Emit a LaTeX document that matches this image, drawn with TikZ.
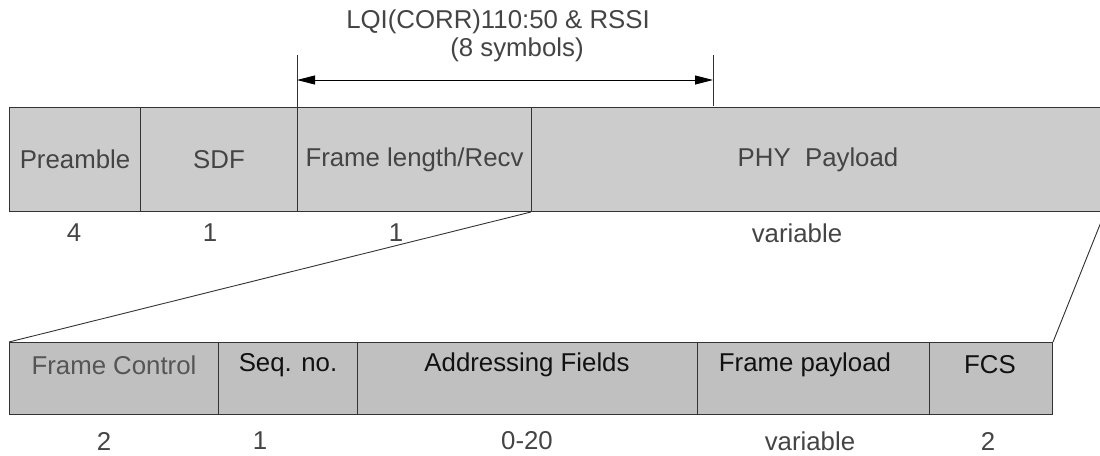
\documentclass[tikz,border=0pt]{standalone}
\usepackage{fontspec}
\setmainfont{Liberation Sans}
\usetikzlibrary{arrows.meta}
\definecolor{linec}{HTML}{333333}
\definecolor{topfill}{HTML}{CCCCCC}
\definecolor{botfill}{HTML}{C0C0C0}
\definecolor{txtgray}{HTML}{444444}
\definecolor{txtmid}{HTML}{555555}
\definecolor{txtdark}{HTML}{111111}
\begin{document}
\begin{tikzpicture}[x=1pt,y=-1pt,
  every node/.style={font=\fontsize{25.8}{30}\selectfont, inner sep=0pt},
  topbox/.style={draw=linec, fill=topfill, line width=1pt, minimum height=104pt, anchor=north west, text=txtgray},
  botbox/.style={draw=linec, fill=botfill, line width=1pt, minimum height=72pt, anchor=north west},
  lbl/.style={text=txtgray},
  conn/.style={draw=linec, line width=0.9pt},
  dimtip/.style={{Triangle[length=18pt,width=9pt]}-{Triangle[length=18pt,width=9pt]}}
]
\useasboundingbox (0,0) rectangle (1100,455);
% top row
\node[topbox, minimum width=131pt] (pre) at (9,107) {Preamble};
\node[topbox, minimum width=157pt] (sdf) at (140,107) {SDF};
\node[topbox, minimum width=234pt] (flen) at (297,107) {Frame length/Recv};
\node[topbox, minimum width=573pt] (phy) at (531,107) {PHY\ \ Payload};
% top sizes
\node[lbl] (s4) at (74,233) {4};
\node[lbl] (s1a) at (210,233) {1};
\node[lbl] (s1b) at (396,233) {1};
\node[lbl] (svar) at (797,233) {variable};
% bottom row
\node[botbox, minimum width=209pt] (fc) at (9,342) {};
\node[botbox, minimum width=139pt] (seq) at (218,342) {};
\node[botbox, minimum width=340pt] (addr) at (357,342) {};
\node[botbox, minimum width=232pt] (fpl) at (697,342) {};
\node[botbox, minimum width=123pt] (fcs) at (929,342) {};
\node[text=txtmid] (tfc) at (114,365) {Frame Control};
\node[text=txtdark] (tseq) at (288,365) {Seq. no.};
\node[text=txtdark] (taddr) at (527,365) {Addressing Fields};
\node[text=txtdark] (tfpl) at (805,365) {Frame payload};
\node[text=txtdark] (tfcs) at (990,365) {FCS};
% bottom sizes
\node[lbl] (b2) at (104,441) {2};
\node[lbl] (b1) at (260,441) {1};
\node[lbl] (b020) at (527,441) {0-20};
\node[lbl] (bvar) at (810,441) {variable};
\node[lbl] (b2b) at (988,441) {2};
% expansion lines
\draw[conn] (phy.south west) -- (fc.north west);
\draw[conn] (fcs.north east) -- (phy.south east);
% dimension
\coordinate (ltop) at (297,55);
\coordinate (rtop) at (713,55);
\coordinate (rbot) at (713,106);
\coordinate (la) at (297,80);
\coordinate (ra) at (713,80);
\draw[conn] (ltop) -- (flen.north west);
\draw[conn] (rtop) -- (rbot);
\draw[conn, dimtip, draw=black, fill=black] (la) -- (ra);
\node[lbl] (q1) at (498,22) {LQI(CORR)110:50 \& RSSI};
\node[lbl] (q2) at (517,50) {(8 symbols)};
\end{tikzpicture}
\end{document}
